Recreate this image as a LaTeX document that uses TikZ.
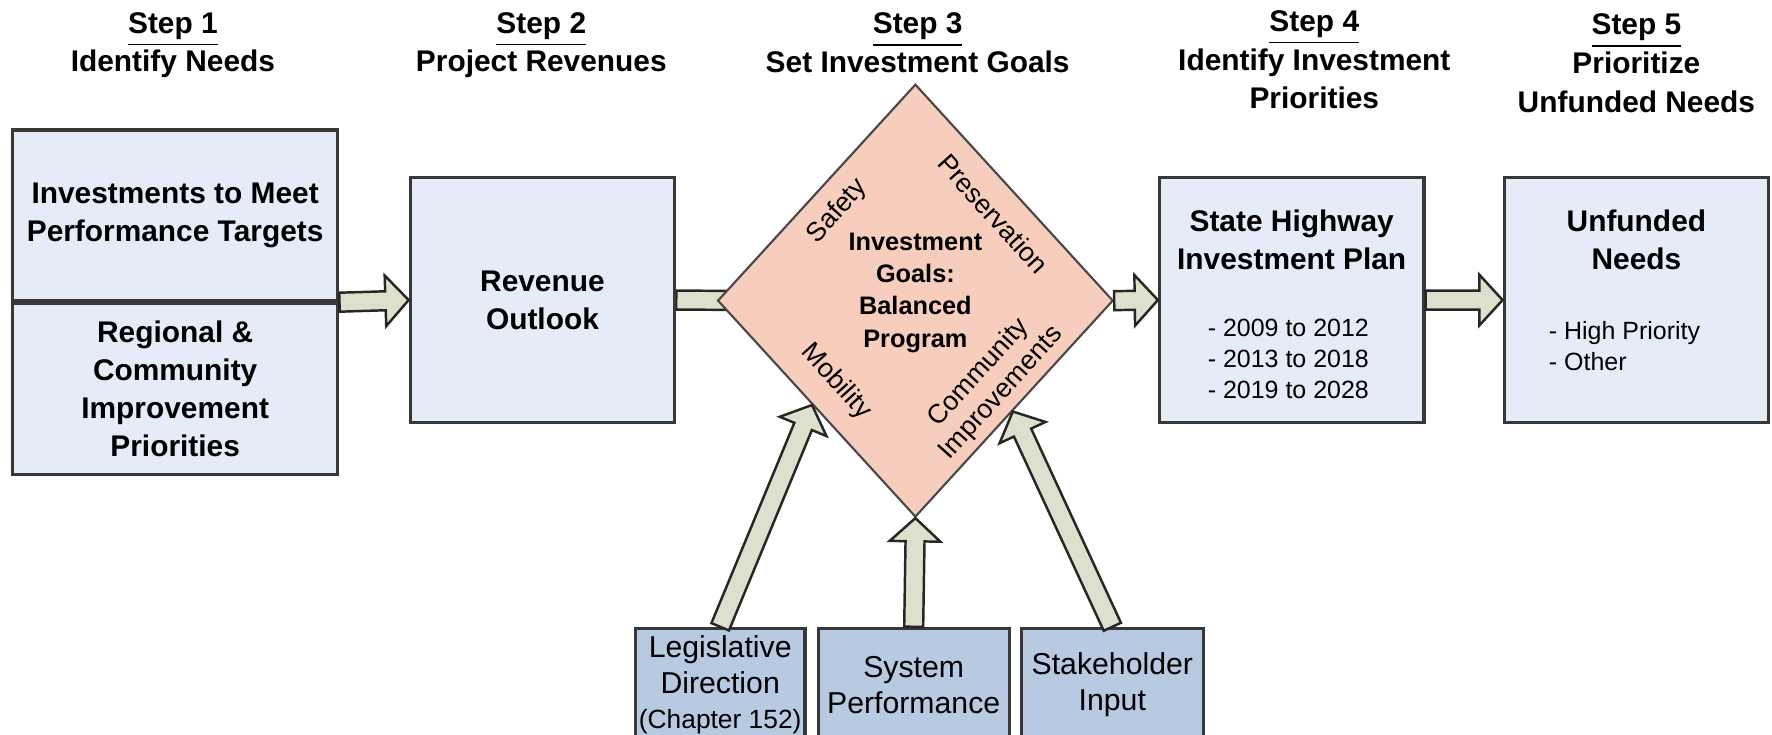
\documentclass[tikz,border=0pt]{standalone}
\usepackage{fontspec}
\setmainfont{Liberation Sans}
\usepackage{tikz}
\usetikzlibrary{positioning,calc,shapes.geometric,backgrounds}

\definecolor{boxblue}{HTML}{E6ECF7}
\definecolor{srcblue}{HTML}{B8C9E2}
\definecolor{goalpink}{HTML}{F7CDBE}
\definecolor{arrowfill}{HTML}{DDE0CC}

% block arrow from #1 to #2 (shaft 2.7pt, head 7pt wide each side)
\newcommand{\fatarrow}[2]{%
  \coordinate (fa) at ($(#2)!6.6pt!(#1)$);
  \filldraw[fat] ($(#1)!2.7pt!90:(#2)$) -- ($(fa)!2.7pt!90:(#2)$)
    -- ($(fa)!7.2pt!90:(#2)$) -- (#2) -- ($(fa)!7.2pt!-90:(#2)$)
    -- ($(fa)!2.7pt!-90:(#2)$) -- ($(#1)!2.7pt!-90:(#2)$) -- cycle;}

\begin{document}
\begin{tikzpicture}[
  x=0.113mm, y=-0.113mm,
  head/.style={align=center, font=\bfseries\fontsize{8.5}{11}\selectfont},
  box/.style={draw=black!78, line width=0.9pt, fill=boxblue, align=center,
              minimum width=234*0.113mm, minimum height=217*0.113mm,
              inner sep=1pt, font=\bfseries\fontsize{8.5}{10.8}\selectfont},
  boxtext/.style={align=center, inner sep=0pt, font=\bfseries\fontsize{8.5}{10.8}\selectfont},
  listtext/.style={align=left, inner sep=0pt, font=\fontsize{7.1}{8.9}\selectfont},
  src/.style={draw=black!78, line width=0.9pt, fill=srcblue, align=center,
              minimum height=100*0.113mm, inner sep=1pt,
              font=\fontsize{8.6}{10.2}\selectfont},
  goal/.style={diamond, draw=black!72, line width=0.6pt, fill=goalpink,
               minimum width=350*0.113mm, minimum height=383*0.113mm,
               inner sep=0pt},
  aim/.style={align=center, inner sep=0pt, font=\fontsize{7.6}{8.6}\selectfont},
  fat/.style={draw=black!85, line width=0.7pt, fill=arrowfill}]

\useasboundingbox (0,0) rectangle (1568,650);

% ---------------- step headings ----------------
\node[head] (h1) at (153,40)   {\underline{Step 1}\\Identify Needs};
\node[head] (h2) at (479,40)   {\underline{Step 2}\\Project Revenues};
\node[head] (h3) at (812,38)   {\underline{Step 3}\\Set Investment Goals};
\node[head] (h4) at (1163,53)  {\underline{Step 4}\\Identify Investment\\Priorities};
\node[head] (h5) at (1448,56)  {\underline{Step 5}\\Prioritize\\Unfunded Needs};

% ---------------- main boxes ----------------
\node[box, minimum width=288*0.113mm, minimum height=151*0.113mm] (need) at (155,190.5)
  {Investments to Meet\\Performance Targets};
\node[box, minimum width=288*0.113mm, minimum height=151*0.113mm, below=0pt of need] (prio)
  {Regional \&\\Community\\Improvement\\Priorities};

\node[box] (rev) at (480,265.5) {Revenue\\Outlook};

\node[box] (plan) at (1143,265.5) {};
\node[boxtext] (plantitle) at ($(plan.center)+(0,-53)$) {State Highway\\Investment Plan};
\node[listtext] (planlist) at ($(plan.center)+(-3,52)$)
  {- 2009 to 2012\\- 2013 to 2018\\- 2019 to 2028};

\node[box] (unmet) at (1448,265.5) {};
\node[boxtext] (unmettitle) at ($(unmet.center)+(0,-53)$) {Unfunded\\Needs};
\node[listtext, anchor=west] (unmetlist) at ($(unmet.center)+(-78,41)$)
  {- High Priority\\- Other};

% ---------------- goals diamond ----------------
\node[goal] (goal) at (810,266) {};
\node[align=center, font=\bfseries\fontsize{7.2}{9.2}\selectfont] (goaltext) at (810,259)
  {Investment\\Goals:\\Balanced\\Program};
\node[aim, rotate=48]  (safety) at (741,187) {Safety};
\node[aim, rotate=-48] (pres)   at (879,189) {Preservation};
\node[aim, rotate=-48] (mobil)  at (740,338) {Mobility};
\node[aim, rotate=48]  (commun) at (876,339) {Community\\Improvements};

% ---------------- inputs ----------------
\node[src, minimum width=169*0.113mm] (perf) at (808.5,606) {System\\Performance};
\node[src, minimum width=146*0.113mm, left=1mm of perf] (law)
  {Legislative\\Direction\\{\fontsize{7.5}{9}\selectfont(Chapter 152)}};
\node[src, minimum width=161*0.113mm, right=0.9mm of perf] (stake) {Stakeholder\\Input};

% ---------------- flow arrows ----------------
\coordinate (goalin) at ($(goal.west)+(45,0)$);
\begin{pgfonlayer}{background}
  \fatarrow{rev.east}{goalin}
\end{pgfonlayer}
\fatarrow{need.south east}{rev.west}
\fatarrow{goal.east}{plan.west}
\fatarrow{plan.east}{unmet.west}

\coordinate (lawtip)   at ($(goal.west)!0.48!(goal.south)$);
\coordinate (staketip) at ($(goal.east)!0.51!(goal.south)$);
\fatarrow{law.north}{lawtip}
\fatarrow{perf.north}{goal.south}
\fatarrow{stake.north}{staketip}

\end{tikzpicture}
\end{document}
